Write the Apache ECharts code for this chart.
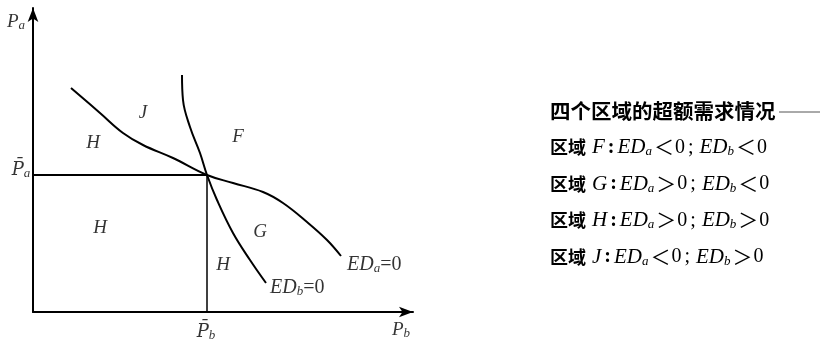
<!DOCTYPE html>
<html><head><meta charset="utf-8">
<script src="https://cdn.jsdelivr.net/npm/echarts@6/dist/echarts.min.js"></script>
<style>html,body{margin:0;padding:0;background:#fff}#c{width:820px;height:342px}</style>
</head><body><div id="c"></div>
<script>
// Curve ED_a = 0 (x = P_b, y = P_a)
const edA = [[38,224],[67,199],[90,179],[110,167],[140,154],[174,137],[200,129],[230,120],[250,109],[274,90],[294,72],[308,56]];
// Curve ED_b = 0
const edB = [[149,237],[150,212],[157,185],[167,159],[174,137],[184,112],[200,79],[217,52],[233,29]];
// Equilibrium prices
const pbBar = 174, paBar = 137;
// Region labels: [x, y, text]
const regions = [[110,199,'J'],[60,169,'H'],[205,175,'F'],[67,84,'H'],[227,80,'G'],[190,47,'H']];
// Legend text rows: region, sign of ED_a, sign of ED_b
const rows = [
  ['F','＜','＜'],
  ['G','＞','＜'],
  ['H','＞','＞'],
  ['J','＜','＞']
];
const titleText = '四个区域的超额需求情况';

const serif = 'Liberation Serif';
const cjk = 'Noto Sans CJK SC';
const rich = {
  i: {fontFamily: serif, fontStyle: 'italic', fontSize: 19, color: '#000'},
  ci: {fontFamily: serif, fontStyle: 'italic', fontSize: 20, color: '#000'},
  s: {fontFamily: serif, fontStyle: 'italic', fontSize: 13, color: '#000', padding: [8,0,0,0]},
  n: {fontFamily: serif, fontSize: 20, color: '#000'},
  b: {fontFamily: 'DejaVu Serif', fontStyle: 'italic', fontSize: 18, color: '#000'},
  // legend styles
  c: {fontFamily: cjk, fontWeight: 'bold', fontSize: 18, color: '#000', padding: [0,6,0,0]},
  li: {fontFamily: serif, fontStyle: 'italic', fontSize: 21, color: '#000'},
  ls: {fontFamily: serif, fontStyle: 'italic', fontSize: 13, color: '#000', padding: [9,1,0,0]},
  ln: {fontFamily: serif, fontSize: 20, color: '#000'},
  lc: {fontFamily: serif, fontWeight: 'bold', fontSize: 20, color: '#000', padding: [0,3,0,3]},
  lsc: {fontFamily: serif, fontSize: 20, color: '#000', padding: [0,6,0,3]},
  lo: {fontFamily: cjk, fontSize: 20, color: '#000', padding: [0,1,0,1]}
};

const chart = echarts.init(document.getElementById('c'));
const textPoints = regions.map(r => ({value: [r[0], r[1]], label: {formatter: '{i|' + r[2] + '}'}}));
textPoints.push({value: [314, 47], label: {formatter: '{ci|ED}{s|a}{n|=0}', align: 'left'}});
textPoints.push({value: [237, 24], label: {formatter: '{ci|ED}{s|b}{n|=0}', align: 'left'}});
textPoints.push({value: [-17, 290], label: {formatter: '{i|P}{s|a}'}});
textPoints.push({value: [-12, 142], label: {formatter: '{b|P\u0304}{s|a}'}});
textPoints.push({value: [173, -20], label: {formatter: '{b|P\u0304}{s|b}'}});
textPoints.push({value: [368, -18], label: {formatter: '{i|P}{s|b}'}});

const graphics = [];
graphics.push({type: 'text', left: 550, top: 101, style: {text: titleText, font: 'bold 20.5px "Noto Sans CJK SC"', fill: '#000'}});
graphics.push({type: 'line', shape: {x1: 779, y1: 112, x2: 820, y2: 112}, style: {stroke: '#555', lineWidth: 1}});
rows.forEach((r, k) => {
  graphics.push({type: 'text', left: 550, top: 137 + k * 36.5, style: {
    text: '{c|区域}{li|' + r[0] + '}{lc|:}{li|ED}{ls|a}{lo|' + r[1] + '}{ln|0}{lsc|;}{li|ED}{ls|b}{lo|' + r[2] + '}{ln|0}',
    rich: rich
  }});
});

chart.setOption({
  animation: false,
  grid: {left: 33, right: 407, top: 8, bottom: 30},
  xAxis: {type: 'value', min: 0, max: 380, axisLine: {show: true, symbol: ['none','arrow'], symbolSize: [8,14], lineStyle: {color: '#000', width: 2}},
    axisTick: {show: false}, axisLabel: {show: false}, splitLine: {show: false}},
  yAxis: {type: 'value', min: 0, max: 304, axisLine: {show: true, symbol: ['none','arrow'], symbolSize: [8,14], lineStyle: {color: '#000', width: 2}},
    axisTick: {show: false}, axisLabel: {show: false}, splitLine: {show: false}},
  graphic: graphics,
  series: [
    {type: 'line', data: edA, smooth: 0.4, symbol: 'none', lineStyle: {color: '#000', width: 2}},
    {type: 'line', data: edB, smooth: 0.4, symbol: 'none', lineStyle: {color: '#000', width: 2}},
    {type: 'line', data: [[0, paBar],[pbBar, paBar]], symbol: 'none', lineStyle: {color: '#000', width: 2}},
    {type: 'line', data: [[pbBar, paBar],[pbBar, 0]], symbol: 'none', lineStyle: {color: '#000', width: 1.5}},
    {type: 'scatter', data: textPoints, symbolSize: 0, silent: true, clip: false,
      label: {show: true, position: 'inside', rich: rich, color: '#000'}}
  ]
});
</script></body></html>
